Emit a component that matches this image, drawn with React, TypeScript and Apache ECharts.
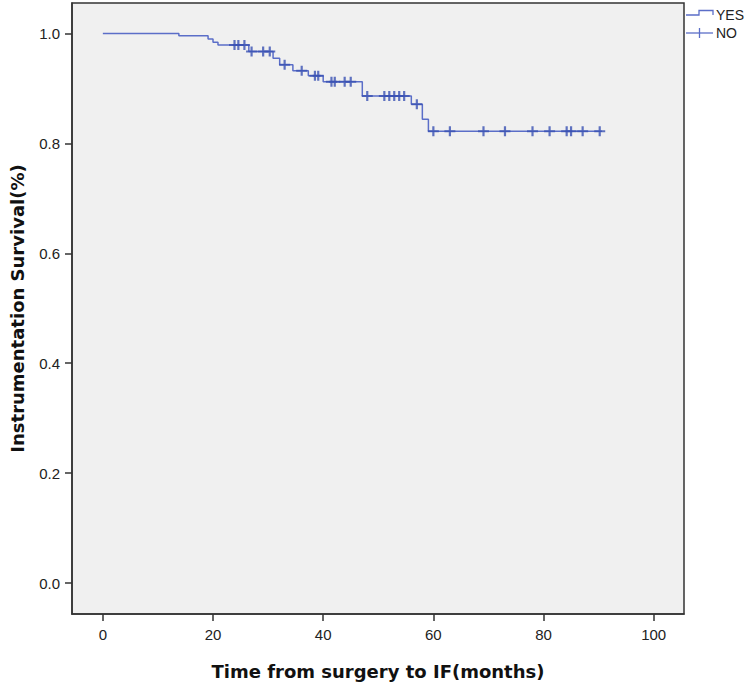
import React, { useEffect, useRef } from "react";
import * as echarts from "echarts";

// Kaplan-Meier step curve (time in months, survival proportion after the step)
const stepTimes = [0, 13.8, 19.1, 20.0, 20.9, 26.5, 30.9, 32.1, 34.5, 37.3, 40.0, 47.1, 56.0, 58.0, 59.1];
const stepSurv = [1.0, 0.996, 0.99, 0.984, 0.979, 0.967, 0.955, 0.943, 0.932, 0.923, 0.912, 0.886, 0.871, 0.844, 0.822];
const curveEnd = 90.6;
// censored observations (months)
const censorTimes = [
  23.9, 24.6, 25.7, 27.0, 29.1, 30.3, 33.0, 36.1, 38.5, 39.1, 41.5, 42.1, 43.9, 45.0,
  48.0, 51.1, 52.0, 52.9, 53.8, 54.7, 57.0, 60.0, 63.0, 69.1, 73.0, 78.0, 81.1, 84.2,
  85.0, 87.1, 90.2,
];
const xTicks = [0, 20, 40, 60, 80, 100];
const yTicks = [0, 0.2, 0.4, 0.6, 0.8, 1.0];
const legendNames = ["YES", "NO"];
const xTitle = "Time from surgery to IF(months)";
const yTitle = "Instrumentation Survival(%)";

const LINE_COLOR = "#5b6ec8";
const MARK_COLOR = "#3a51b3";
const AXIS_COLOR = "#333333";
const PLUS = "path://M4,0 L6,0 L6,4 L10,4 L10,6 L6,6 L6,10 L4,10 L4,6 L0,6 L0,4 L4,4 Z";

function survivalAt(t: number): number {
  let s = stepSurv[0];
  for (let i = 0; i < stepTimes.length; i++) {
    if (stepTimes[i] <= t) s = stepSurv[i];
  }
  return s;
}

export default function App() {
  const ref = useRef<HTMLDivElement>(null);
  useEffect(() => {
    if (!ref.current) return;
    const chart = echarts.init(ref.current, null, { renderer: "svg" });
    const curve = stepTimes.map((t, i) => [t, stepSurv[i]]);
    curve.push([curveEnd, survivalAt(curveEnd)]);
    const marks = censorTimes.map((t) => [t, survivalAt(t)]);
    const tickFont = "Liberation Sans, Arial, sans-serif";
    const titleFont = "DejaVu Sans, Verdana, sans-serif";
    chart.setOption({
      animation: false,
      backgroundColor: "#ffffff",
      grid: {
        left: 69,
        top: 3,
        width: 615,
        height: 612,
        show: true,
        backgroundColor: "#f0f0f0",
        borderColor: AXIS_COLOR,
        borderWidth: 1.5,
      },
      xAxis: {
        type: "value",
        min: -5.6,
        max: 105.5,
        axisLine: { show: true, onZero: false, lineStyle: { color: AXIS_COLOR, width: 1.5 } },
        splitLine: { show: false },
        axisTick: {
          show: true,
          customValues: xTicks,
          length: 7,
          lineStyle: { color: AXIS_COLOR, width: 1.5 },
        },
        axisLabel: {
          customValues: xTicks,
          fontSize: 15,
          color: "#222222",
          fontFamily: tickFont,
          margin: 13,
        },
        name: xTitle,
        nameLocation: "middle",
        nameGap: 48,
        nameTextStyle: { fontSize: 18, fontWeight: "bold", color: "#111111", fontFamily: titleFont },
      },
      yAxis: {
        type: "value",
        min: -0.0563,
        max: 1.0554,
        axisLine: { show: true, onZero: false, lineStyle: { color: AXIS_COLOR, width: 1.5 } },
        splitLine: { show: false },
        axisTick: {
          show: true,
          customValues: yTicks,
          length: 7,
          lineStyle: { color: AXIS_COLOR, width: 1.5 },
        },
        axisLabel: {
          customValues: yTicks,
          formatter: (v: number) => v.toFixed(1),
          fontSize: 15,
          color: "#222222",
          fontFamily: tickFont,
          margin: 12,
        },
        name: yTitle,
        nameLocation: "middle",
        nameGap: 46,
        nameTextStyle: { fontSize: 18, fontWeight: "bold", color: "#111111", fontFamily: titleFont },
      },
      series: [
        {
          name: legendNames[0],
          type: "line",
          step: "end",
          showSymbol: false,
          data: curve,
          lineStyle: { color: LINE_COLOR, width: 1.5 },
          itemStyle: { color: LINE_COLOR },
          z: 2,
        },
        {
          name: legendNames[1],
          type: "scatter",
          symbol: PLUS,
          symbolSize: [11, 10],
          data: marks,
          itemStyle: { color: MARK_COLOR },
          z: 3,
        },
      ],
      graphic: [
        {
          type: "polyline",
          shape: { points: [[686, 15], [699, 15], [699, 10.5], [713, 10.5], [713, 15]] },
          style: { stroke: LINE_COLOR, lineWidth: 1.3, fill: "none" },
        },
        {
          type: "line",
          shape: { x1: 686, y1: 33, x2: 713, y2: 33 },
          style: { stroke: LINE_COLOR, lineWidth: 1.3 },
        },
        {
          type: "line",
          shape: { x1: 699.5, y1: 28, x2: 699.5, y2: 38 },
          style: { stroke: LINE_COLOR, lineWidth: 1.3 },
        },
        {
          type: "text",
          x: 716,
          y: 15,
          style: {
            text: legendNames[0],
            fontSize: 14,
            fontFamily: tickFont,
            fill: "#222222",
            verticalAlign: "middle",
            align: "left",
          },
        },
        {
          type: "text",
          x: 716,
          y: 33,
          style: {
            text: legendNames[1],
            fontSize: 14,
            fontFamily: tickFont,
            fill: "#222222",
            verticalAlign: "middle",
            align: "left",
          },
        },
      ],
    });
    return () => chart.dispose();
  }, []);
  return (
    <div
      ref={ref}
      style={{ position: "absolute", left: 0, top: 0, width: 750, height: 685 }}
    />
  );
}
